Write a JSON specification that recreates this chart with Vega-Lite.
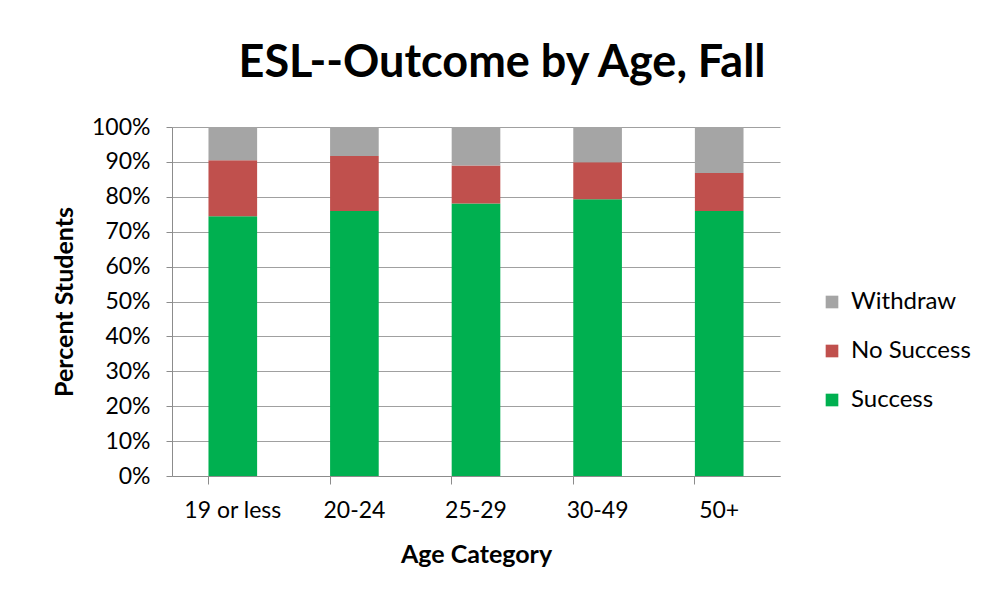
{
  "$schema": "https://vega.github.io/schema/vega-lite/v6.json",
  "autosize": "none",
  "width": 608,
  "height": 349,
  "padding": {"left": 172, "top": 127, "right": 209, "bottom": 122},
  "background": "white",
  "title": {
    "text": "ESL--Outcome by Age, Fall",
    "font": "Lato",
    "fontWeight": "bold",
    "fontSize": 45,
    "color": "#000000",
    "anchor": "middle",
    "dx": 26,
    "offset": 30
  },
  "data": {
    "values": [
      {"age": "19 or less", "outcome": "Success", "value": 0.744},
      {"age": "19 or less", "outcome": "No Success", "value": 0.161},
      {"age": "19 or less", "outcome": "Withdraw", "value": 0.095},
      {"age": "20-24", "outcome": "Success", "value": 0.759},
      {"age": "20-24", "outcome": "No Success", "value": 0.158},
      {"age": "20-24", "outcome": "Withdraw", "value": 0.083},
      {"age": "25-29", "outcome": "Success", "value": 0.781},
      {"age": "25-29", "outcome": "No Success", "value": 0.109},
      {"age": "25-29", "outcome": "Withdraw", "value": 0.110},
      {"age": "30-49", "outcome": "Success", "value": 0.793},
      {"age": "30-49", "outcome": "No Success", "value": 0.106},
      {"age": "30-49", "outcome": "Withdraw", "value": 0.101},
      {"age": "50+", "outcome": "Success", "value": 0.759},
      {"age": "50+", "outcome": "No Success", "value": 0.109},
      {"age": "50+", "outcome": "Withdraw", "value": 0.132}
    ]
  },
  "transform": [
    {"calculate": "indexof(['Success','No Success','Withdraw'], datum.outcome)", "as": "stackOrder"}
  ],
  "mark": {"type": "bar"},
  "encoding": {
    "x": {
      "field": "age",
      "type": "nominal",
      "sort": ["19 or less", "20-24", "25-29", "30-49", "50+"],
      "scale": {"paddingInner": 0.6, "paddingOuter": 0.3},
      "axis": {
        "title": "Age Category",
        "labelAngle": 0,
        "bandPosition": 0,
        "grid": false,
        "domainColor": "#8c8c8c",
        "tickColor": "#8c8c8c",
        "tickSize": 8,
        "labelPadding": 15,
        "labelFont": "Lato",
        "labelFontSize": 23,
        "labelColor": "#000000",
        "titleFont": "Lato",
        "titleFontSize": 25,
        "titleFontWeight": "bold",
        "titleColor": "#000000",
        "titlePadding": 20
      }
    },
    "y": {
      "field": "value",
      "type": "quantitative",
      "stack": "zero",
      "scale": {"domain": [0, 1]},
      "axis": {
        "title": "Percent Students",
        "format": ".0%",
        "values": [0, 0.1, 0.2, 0.3, 0.4, 0.5, 0.6, 0.7, 0.8, 0.9, 1],
        "grid": true,
        "gridColor": "#a0a0a0",
        "gridWidth": 1.2,
        "domainColor": "#8c8c8c",
        "tickColor": "#8c8c8c",
        "tickSize": 6,
        "labelPadding": 16,
        "labelFont": "Lato",
        "labelFontSize": 23,
        "labelColor": "#000000",
        "titleFont": "Lato",
        "titleFontSize": 25,
        "titleFontWeight": "bold",
        "titleColor": "#000000",
        "titlePadding": 14
      }
    },
    "color": {
      "field": "outcome",
      "type": "nominal",
      "scale": {
        "domain": ["Withdraw", "No Success", "Success"],
        "range": ["#a5a5a5", "#c0504d", "#00b050"]
      },
      "legend": {
        "title": null,
        "orient": "none",
        "legendX": 648,
        "legendY": 163,
        "symbolType": "square",
        "symbolSize": 160,
        "symbolStrokeWidth": 0,
        "symbolOpacity": 1,
        "labelFont": "Lato",
        "labelFontSize": 24,
        "labelColor": "#000000",
        "labelOffset": 7,
        "rowPadding": 25
      }
    },
    "order": {"field": "stackOrder", "type": "quantitative"}
  },
  "config": {
    "view": {"stroke": null}
  }
}
